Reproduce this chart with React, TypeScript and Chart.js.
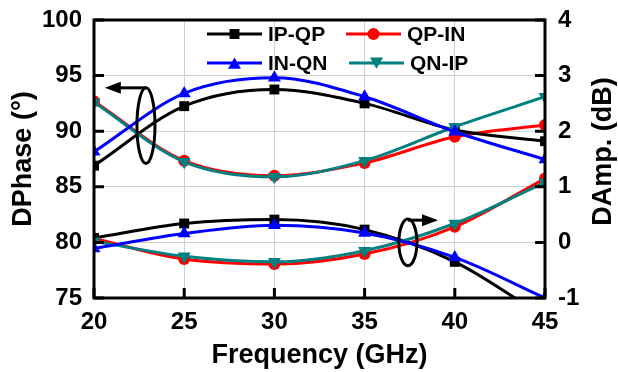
import React, { useEffect, useRef } from "react";
import { Chart, registerables } from "chart.js";

Chart.register(...registerables);

// ---- data ----
const freqs = [20, 25, 30, 35, 40, 45];
const seriesNames = ["IP-QP", "QP-IN", "IN-QN", "QN-IP"];
const seriesColors = ["#000000", "#ff0000", "#0000ff", "#008080"];
const seriesMarkers = ["rect", "circle", "triangle", "triangle"];
const seriesRotation = [0, 0, 0, 180];
const seriesRadius = [7, 6, 7.5, 7.5];
const seriesOrder = [3, 4, 1, 2];

const phaseIPQP = [86.9, 92.25, 93.75, 92.5, 90.1, 89.1];
const phaseQPIN = [92.7, 87.35, 86.0, 87.15, 89.5, 90.55];
const phaseINQN = [88.15, 93.4, 94.8, 93.1, 89.95, 87.45];
const phaseQNIP = [92.6, 87.25, 85.9, 87.35, 90.4, 93.1];

const ampIPQP = [0.08, 0.34, 0.41, 0.23, -0.35, -1.35];
const ampQPIN = [0.07, -0.3, -0.39, -0.21, 0.28, 1.15];
const ampINQN = [-0.11, 0.16, 0.31, 0.17, -0.27, -1.0];
const ampQNIP = [0.02, -0.25, -0.35, -0.15, 0.34, 1.08];

const phaseSeries = [phaseIPQP, phaseQPIN, phaseINQN, phaseQNIP];
const ampSeries = [ampIPQP, ampQPIN, ampINQN, ampQNIP];

const xTicks = [20, 25, 30, 35, 40, 45];
const phaseTicks = [75, 80, 85, 90, 95, 100];
const ampTicks = [-1, 0, 1, 2, 3, 4];

const rightTitle = "DAmp. (dB)";

// ellipse + arrow annotations (data coordinates)
const annotations = [
  { axis: "y", cx: 22.88, cy: 90.5, rx: 0.5, ry: 3.4, arrowY: 93.9, tipX: 20.6, dir: -1 },
  { axis: "y1", cx: 37.4, cy: 0.0, rx: 0.5, ry: 0.42, arrowY: 0.4, tipX: 39.07, dir: 1 },
];

const FONT = "'Liberation Sans', Arial, sans-serif";

const makePoint = (ctx: CanvasRenderingContext2D, style: string, x: number, y: number, r: number, rot: number, color: string) => {
  ctx.save();
  ctx.fillStyle = color;
  ctx.strokeStyle = color;
  ctx.lineWidth = 1;
  ctx.beginPath();
  if (style === "rect") {
    const s = r * Math.SQRT2 / 2;
    ctx.rect(x - s, y - s, 2 * s, 2 * s);
  } else if (style === "circle") {
    ctx.arc(x, y, r, 0, Math.PI * 2);
  } else {
    const a0 = (rot * Math.PI) / 180 - Math.PI / 2;
    for (let i = 0; i < 3; i++) {
      const a = a0 + (i * 2 * Math.PI) / 3;
      const px = x + r * Math.cos(a);
      const py = y + r * Math.sin(a) + (rot === 0 ? r * 0.25 : -r * 0.25);
      if (i === 0) ctx.moveTo(px, py);
      else ctx.lineTo(px, py);
    }
    ctx.closePath();
  }
  ctx.fill();
  ctx.restore();
};

const decorPlugin = {
  id: "decor",
  afterDatasetsDraw(chart: any) {
    const { ctx, chartArea } = chart;
    const { left, right, top, bottom } = chartArea;
    const xs = chart.scales.x;
    const ys = chart.scales.y;
    const y1s = chart.scales.y1;
    ctx.save();
    // inner tick marks
    ctx.strokeStyle = "#000";
    ctx.lineWidth = 3;
    const tl = 10;
    ctx.beginPath();
    xTicks.forEach((v) => {
      const px = xs.getPixelForValue(v);
      ctx.moveTo(px, bottom);
      ctx.lineTo(px, bottom - tl);
    });
    phaseTicks.forEach((v) => {
      const py = ys.getPixelForValue(v);
      ctx.moveTo(left, py);
      ctx.lineTo(left + tl, py);
    });
    ampTicks.forEach((v) => {
      const py = y1s.getPixelForValue(v);
      ctx.moveTo(right, py);
      ctx.lineTo(right - tl, py);
    });
    ctx.stroke();
    // frame
    ctx.lineWidth = 3;
    ctx.strokeRect(left, top, right - left, bottom - top);

    // annotations
    annotations.forEach((a) => {
      const sc = chart.scales[a.axis];
      const cx = xs.getPixelForValue(a.cx);
      const cy = sc.getPixelForValue(a.cy);
      const rx = Math.abs(xs.getPixelForValue(a.cx + a.rx) - cx);
      const ry = Math.abs(sc.getPixelForValue(a.cy + a.ry) - cy);
      ctx.lineWidth = 3;
      ctx.beginPath();
      ctx.ellipse(cx, cy, rx, ry, 0, 0, Math.PI * 2);
      ctx.stroke();
      const ay = sc.getPixelForValue(a.arrowY);
      const tx = xs.getPixelForValue(a.tipX);
      const headLen = 16;
      const headH = 6;
      ctx.beginPath();
      ctx.moveTo(cx, ay);
      ctx.lineTo(tx - a.dir * headLen * 0.6, ay);
      ctx.stroke();
      ctx.beginPath();
      ctx.moveTo(tx, ay);
      ctx.lineTo(tx - a.dir * headLen, ay - headH);
      ctx.lineTo(tx - a.dir * headLen, ay + headH);
      ctx.closePath();
      ctx.fillStyle = "#000";
      ctx.fill();
    });

    // legend
    const colX = [left + 113, left + 252];
    const rowY = [top + 14, top + 43];
    const lineLen = 55;
    ctx.font = `bold 21px ${FONT}`;
    ctx.textBaseline = "middle";
    ctx.textAlign = "left";
    seriesNames.forEach((name, i) => {
      const col = i % 2 === 0 ? 0 : 1;
      const row = i < 2 ? 0 : 1;
      const x0 = colX[col] + (row === 1 && col === 1 ? 3 : 0);
      const y0 = rowY[row];
      ctx.strokeStyle = seriesColors[i];
      ctx.lineWidth = 3;
      ctx.beginPath();
      ctx.moveTo(x0, y0);
      ctx.lineTo(x0 + lineLen, y0);
      ctx.stroke();
      makePoint(ctx, seriesMarkers[i], x0 + lineLen / 2, y0, seriesRadius[i], seriesRotation[i], seriesColors[i]);
      ctx.fillStyle = "#000";
      ctx.fillText(name, x0 + lineLen + 6, y0 + 1);
    });

    // right axis title (reads bottom-to-top)
    ctx.save();
    ctx.translate(right + 59, (top + bottom) / 2 - 7.5);
    ctx.rotate(-Math.PI / 2);
    ctx.font = `bold 27px ${FONT}`;
    ctx.textAlign = "center";
    ctx.textBaseline = "middle";
    ctx.fillStyle = "#000";
    ctx.fillText(rightTitle, 0, 0);
    ctx.restore();

    ctx.restore();
  },
};

export default function App() {
  const ref = useRef<HTMLCanvasElement | null>(null);
  useEffect(() => {
    if (!ref.current) return;
    const datasets: any[] = [];
    seriesNames.forEach((name, i) => {
      [
        { data: phaseSeries[i], axis: "y" },
        { data: ampSeries[i], axis: "y1" },
      ].forEach((d) => {
        datasets.push({
          label: name,
          data: freqs.map((f, k) => ({ x: f, y: d.data[k] })),
          yAxisID: d.axis,
          borderColor: seriesColors[i],
          backgroundColor: seriesColors[i],
          borderWidth: 3,
          pointStyle: seriesMarkers[i],
          rotation: seriesRotation[i],
          pointRadius: seriesRadius[i],
          pointBorderWidth: 0,
          cubicInterpolationMode: "monotone",
          order: seriesOrder[i],
          clip: 0,
        });
      });
    });
    const tickFont = { family: FONT, size: 24, weight: "bold" as const };
    const titleFont = { family: FONT, size: 27, weight: "bold" as const, lineHeight: 1 };
    const chart = new Chart(ref.current, {
      type: "line",
      data: { datasets },
      options: {
        animation: false,
        responsive: false,
        maintainAspectRatio: false,
        layout: { padding: { top: 20, left: 0, right: 0, bottom: 0 } },
        plugins: { legend: { display: false }, tooltip: { enabled: false } },
        scales: {
          x: {
            type: "linear",
            min: 20,
            max: 45,
            afterFit: (s: any) => { s.height = 74; s.paddingLeft = 0; s.paddingRight = 0; },
            ticks: { stepSize: 5, font: tickFont, color: "#000", padding: 10 },
            grid: { color: "#d0d0d0", lineWidth: 1, drawTicks: false },
            border: { display: false },
            title: { display: true, text: "Frequency (GHz)", font: titleFont, color: "#000", padding: { top: 0, bottom: 2.5 } },
          },
          y: {
            type: "linear",
            position: "left",
            min: 75,
            max: 100,
            afterFit: (s: any) => { s.width = 94; s.paddingTop = 0; s.paddingBottom = 0; },
            ticks: { stepSize: 5, font: tickFont, color: "#000", padding: 12 },
            grid: { color: "#d0d0d0", lineWidth: 1, drawTicks: false },
            border: { display: false },
            title: { display: true, text: "DPhase (°)", font: titleFont, color: "#000", padding: { top: 10.5, bottom: 0 } },
          },
          y1: {
            type: "linear",
            position: "right",
            min: -1,
            max: 4,
            afterFit: (s: any) => { s.width = 73; s.paddingTop = 0; s.paddingBottom = 0; },
            ticks: { stepSize: 1, font: tickFont, color: "#000", padding: 13 },
            grid: { drawOnChartArea: false, drawTicks: false },
            border: { display: false },
            title: { display: false },
          },
        },
      },
      plugins: [decorPlugin],
    });
    return () => chart.destroy();
  }, []);
  return (
    <div style={{ position: "fixed", left: 0, top: 0, width: 618, height: 372, background: "#fff" }}>
      <canvas ref={ref} width={618} height={372} style={{ width: 618, height: 372 }} />
    </div>
  );
}
